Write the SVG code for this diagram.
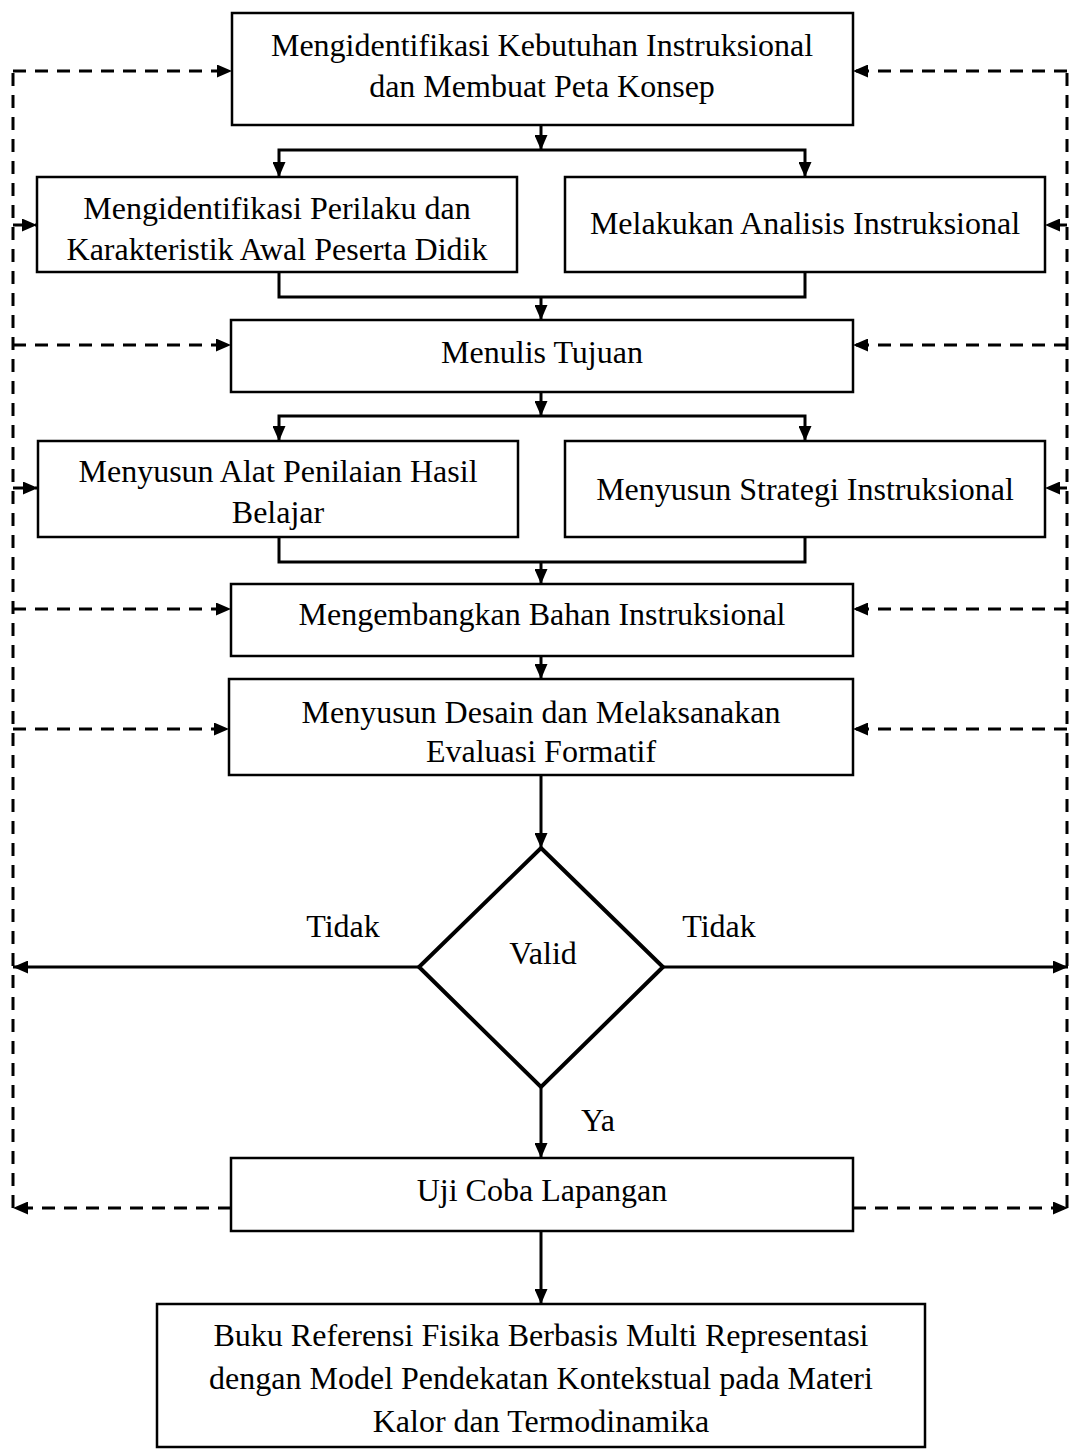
<svg xmlns="http://www.w3.org/2000/svg" width="1069" height="1450" viewBox="0 0 1069 1450">
  <style>
    .box { fill: #ffffff; stroke: #000000; stroke-width: 2.5; }
    .dia { fill: #ffffff; stroke: #000000; stroke-width: 4; }
    .lbl { font-family: "Liberation Serif", "Times New Roman", serif; font-size: 32px; fill: #000000; text-anchor: middle; }
    .ln { fill: none; stroke: #000000; stroke-width: 3; }
    .dash { fill: none; stroke: #000000; stroke-width: 3; stroke-dasharray: 13 9; }
  </style>
  <defs>
    <marker id="arr" viewBox="0 0 15 13" refX="15" refY="6.5" markerWidth="15" markerHeight="13" markerUnits="userSpaceOnUse" orient="auto">
      <path d="M0,0 L15,6.5 L0,13 Z" fill="#000000"/>
    </marker>
  </defs>

  <!-- connectors -->
  <g id="connectors">
    <!-- main flow -->
    <path class="ln" d="M541,125 V150" marker-end="url(#arr)"/>
    <path class="ln" d="M541,150 H279 V177" marker-end="url(#arr)"/>
    <path class="ln" d="M541,150 H805 V177" marker-end="url(#arr)"/>
    <path class="ln" d="M279,272 V297 H805 V272"/>
    <path class="ln" d="M541,297 V320" marker-end="url(#arr)"/>
    <path class="ln" d="M541,392 V416" marker-end="url(#arr)"/>
    <path class="ln" d="M541,416 H279 V441" marker-end="url(#arr)"/>
    <path class="ln" d="M541,416 H805 V441" marker-end="url(#arr)"/>
    <path class="ln" d="M279,537 V562 H805 V537"/>
    <path class="ln" d="M541,562 V584" marker-end="url(#arr)"/>
    <path class="ln" d="M541,656 V679" marker-end="url(#arr)"/>
    <path class="ln" d="M541,775 V848" marker-end="url(#arr)"/>
    <path class="ln" d="M541,1087 V1158" marker-end="url(#arr)"/>
    <path class="ln" d="M541,1231 V1304" marker-end="url(#arr)"/>
    <!-- "Tidak" branches -->
    <path class="ln" d="M419,967 H13" marker-end="url(#arr)"/>
    <path class="ln" d="M663,967 H1068" marker-end="url(#arr)"/>

    <!-- left feedback rail -->
    <path class="dash" d="M13,1208 V71"/>
    <path class="dash" d="M13,71 H232" marker-end="url(#arr)"/>
    <path class="dash" d="M13,225 H37" marker-end="url(#arr)"/>
    <path class="dash" d="M13,345 H231" marker-end="url(#arr)"/>
    <path class="dash" d="M13,488 H38" marker-end="url(#arr)"/>
    <path class="dash" d="M13,609 H231" marker-end="url(#arr)"/>
    <path class="dash" d="M13,729 H229" marker-end="url(#arr)"/>
    <path class="dash" d="M231,1208 H13" marker-end="url(#arr)"/>

    <!-- right feedback rail -->
    <path class="dash" d="M1067,1208 V71"/>
    <path class="dash" d="M1067,71 H853" marker-end="url(#arr)"/>
    <path class="dash" d="M1067,225 H1045" marker-end="url(#arr)"/>
    <path class="dash" d="M1067,345 H853" marker-end="url(#arr)"/>
    <path class="dash" d="M1067,488 H1045" marker-end="url(#arr)"/>
    <path class="dash" d="M1067,609 H853" marker-end="url(#arr)"/>
    <path class="dash" d="M1067,729 H853" marker-end="url(#arr)"/>
    <path class="dash" d="M853,1208 H1068" marker-end="url(#arr)"/>
  </g>

  <!-- nodes -->
  <g id="n-kebutuhan">
    <rect class="box" x="232" y="13" width="621" height="112"/>
    <text class="lbl" x="542" y="56">Mengidentifikasi Kebutuhan Instruksional</text>
    <text class="lbl" x="542" y="97">dan Membuat Peta Konsep</text>
  </g>
  <g id="n-perilaku">
    <rect class="box" x="37" y="177" width="480" height="95"/>
    <text class="lbl" x="277" y="219">Mengidentifikasi Perilaku dan</text>
    <text class="lbl" x="277" y="260">Karakteristik Awal Peserta Didik</text>
  </g>
  <g id="n-analisis">
    <rect class="box" x="565" y="177" width="480" height="95"/>
    <text class="lbl" x="805" y="234">Melakukan Analisis Instruksional</text>
  </g>
  <g id="n-tujuan">
    <rect class="box" x="231" y="320" width="622" height="72"/>
    <text class="lbl" x="542" y="363">Menulis Tujuan</text>
  </g>
  <g id="n-penilaian">
    <rect class="box" x="38" y="441" width="480" height="96"/>
    <text class="lbl" x="278" y="482">Menyusun Alat Penilaian Hasil</text>
    <text class="lbl" x="278" y="523">Belajar</text>
  </g>
  <g id="n-strategi">
    <rect class="box" x="565" y="441" width="480" height="96"/>
    <text class="lbl" x="805" y="500">Menyusun Strategi Instruksional</text>
  </g>
  <g id="n-bahan">
    <rect class="box" x="231" y="584" width="622" height="72"/>
    <text class="lbl" x="542" y="625">Mengembangkan Bahan Instruksional</text>
  </g>
  <g id="n-formatif">
    <rect class="box" x="229" y="679" width="624" height="96"/>
    <text class="lbl" x="541" y="723">Menyusun Desain dan Melaksanakan</text>
    <text class="lbl" x="541" y="762">Evaluasi Formatif</text>
  </g>
  <g id="n-valid">
    <polygon class="dia" points="541,848 663,967 541,1087 419,967"/>
    <text class="lbl" x="543" y="964">Valid</text>
  </g>
  <g id="edge-labels">
    <text class="lbl" x="343" y="937">Tidak</text>
    <text class="lbl" x="719" y="937">Tidak</text>
    <text class="lbl" x="598" y="1131">Ya</text>
  </g>
  <g id="n-lapangan">
    <rect class="box" x="231" y="1158" width="622" height="73"/>
    <text class="lbl" x="542" y="1201">Uji Coba Lapangan</text>
  </g>
  <g id="n-buku">
    <rect class="box" x="157" y="1304" width="768" height="143"/>
    <text class="lbl" x="541" y="1346">Buku Referensi Fisika Berbasis Multi Representasi</text>
    <text class="lbl" x="541" y="1389">dengan Model Pendekatan Kontekstual pada Materi</text>
    <text class="lbl" x="541" y="1432">Kalor dan Termodinamika</text>
  </g>
</svg>
